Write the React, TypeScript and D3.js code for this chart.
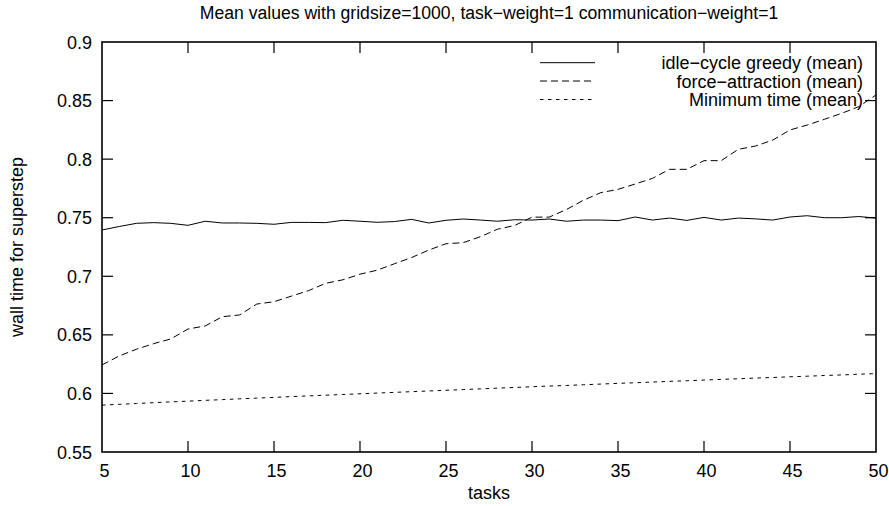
import React, { useEffect, useRef } from "react";
import * as d3 from "d3";

const tasks: number[] = d3.range(5, 51);

const idleCycleGreedy: number[] = [
  0.7395, 0.7425, 0.7452, 0.7458, 0.7452, 0.7435, 0.747, 0.7455, 0.7455, 0.7452,
  0.7444, 0.746, 0.746, 0.7458, 0.7478, 0.747, 0.7461, 0.7467, 0.7486, 0.7455,
  0.7478, 0.7489, 0.748, 0.747, 0.7483, 0.748, 0.7489, 0.747, 0.748, 0.748,
  0.7475, 0.7506, 0.748, 0.7497, 0.7477, 0.7503, 0.748, 0.7497, 0.749, 0.748,
  0.7506, 0.7517, 0.75, 0.75, 0.751, 0.7497,
];

const forceAttraction: number[] = [
  0.6243, 0.632, 0.6377, 0.6425, 0.6465, 0.655, 0.6576, 0.6655, 0.667, 0.6763,
  0.6783, 0.683, 0.6877, 0.694, 0.697, 0.7018, 0.7052, 0.7107, 0.716, 0.7224,
  0.7278, 0.7287, 0.7338, 0.7402, 0.7434, 0.7505, 0.7505, 0.757, 0.765, 0.7714,
  0.7742, 0.7788, 0.7836, 0.7913, 0.7913, 0.7987, 0.7987, 0.8084, 0.8112, 0.8163,
  0.8249, 0.8291, 0.834, 0.8391, 0.8448, 0.8548,
];

const minimumTime: number[] = [
  0.59, 0.5907, 0.5914, 0.5921, 0.5928, 0.5934, 0.5941, 0.5947, 0.5954, 0.596,
  0.5966, 0.5973, 0.5979, 0.5985, 0.5991, 0.5997, 0.6003, 0.6009, 0.6015, 0.6021,
  0.6027, 0.6033, 0.6039, 0.6045, 0.6051, 0.6057, 0.6063, 0.6068, 0.6074, 0.608,
  0.6086, 0.6091, 0.6097, 0.6103, 0.6108, 0.6114, 0.612, 0.6125, 0.6131, 0.6136,
  0.6142, 0.6147, 0.6153, 0.6158, 0.6164, 0.6169,
];

const xTicks: number[] = [5, 10, 15, 20, 25, 30, 35, 40, 45, 50];
const yTicks: number[] = [0.55, 0.6, 0.65, 0.7, 0.75, 0.8, 0.85, 0.9];

const seriesNames: string[] = [
  "idle\u2212cycle greedy (mean)",
  "force\u2212attraction (mean)",
  "Minimum time (mean)",
];
const titleText = "Mean values with gridsize=1000, task\u2212weight=1 communication\u2212weight=1";
const xLabel = "tasks";
const yLabel = "wall time for superstep";

const W = 889;
const H = 506;
const M = { left: 102, right: 876, top: 42, bottom: 452 };
const FONT = "'Liberation Sans', Arial, Helvetica, sans-serif";
const dashes = [null, "7,4", "3.5,4.5"];

export default function App() {
  const ref = useRef<SVGSVGElement>(null);

  useEffect(() => {
    const svg = d3.select(ref.current);
    svg.selectAll("*").remove();

    const x = d3.scaleLinear().domain([5, 50]).range([M.left, M.right]);
    const y = d3.scaleLinear().domain([0.55, 0.9]).range([M.bottom, M.top]);

    svg.append("rect").attr("width", W).attr("height", H).attr("fill", "#fff");

    const g = svg.append("g");
    const tickLen = 11;

    xTicks.forEach((t) => {
      const xp = x(t);
      if (t !== 5 && t !== 50) {
        g.append("line").attr("x1", xp).attr("x2", xp).attr("y1", M.bottom).attr("y2", M.bottom - tickLen).attr("stroke", "#000").attr("stroke-width", 1.2);
        g.append("line").attr("x1", xp).attr("x2", xp).attr("y1", M.top).attr("y2", M.top + tickLen).attr("stroke", "#000").attr("stroke-width", 1.2);
      }
      g.append("text")
        .attr("x", xp + 2.5)
        .attr("y", 476.5)
        .attr("text-anchor", "middle")
        .attr("font-family", FONT)
        .attr("font-size", 18)
        .text(String(t));
    });

    yTicks.forEach((v) => {
      const yp = y(v);
      if (v !== 0.55 && v !== 0.9) {
        g.append("line").attr("x1", M.left).attr("x2", M.left + tickLen).attr("y1", yp).attr("y2", yp).attr("stroke", "#000").attr("stroke-width", 1.2);
        g.append("line").attr("x1", M.right).attr("x2", M.right - tickLen).attr("y1", yp).attr("y2", yp).attr("stroke", "#000").attr("stroke-width", 1.2);
      }
      g.append("text")
        .attr("x", 92)
        .attr("y", yp + 6.5)
        .attr("text-anchor", "end")
        .attr("font-family", FONT)
        .attr("font-size", 18)
        .text(d3.format("")(v));
    });

    const allSeries = [idleCycleGreedy, forceAttraction, minimumTime];
    const line = d3
      .line<[number, number]>()
      .x((d) => x(d[0]))
      .y((d) => y(d[1]));

    allSeries.forEach((vals, i) => {
      const pts: [number, number][] = tasks.map((t, k) => [t, vals[k]]);
      const p = g
        .append("path")
        .attr("d", line(pts) as string)
        .attr("fill", "none")
        .attr("stroke", "#000")
        .attr("stroke-width", 1);
      if (dashes[i]) p.attr("stroke-dasharray", dashes[i] as string);
    });

    const legendRows = [62.7, 81, 99.5];
    seriesNames.forEach((name, i) => {
      const ly = legendRows[i];
      const l = g
        .append("line")
        .attr("x1", 540)
        .attr("x2", 595)
        .attr("y1", ly)
        .attr("y2", ly)
        .attr("stroke", "#000")
        .attr("stroke-width", 1);
      if (dashes[i]) l.attr("stroke-dasharray", dashes[i] as string);
      g.append("text")
        .attr("x", 863)
        .attr("y", ly + 6.5)
        .attr("text-anchor", "end")
        .attr("font-family", FONT)
        .attr("font-size", 18)
        .text(name);
    });

    g.append("rect")
      .attr("x", M.left)
      .attr("y", M.top)
      .attr("width", M.right - M.left)
      .attr("height", M.bottom - M.top)
      .attr("fill", "none")
      .attr("stroke", "#000")
      .attr("stroke-width", 1.6);

    g.append("text")
      .attr("x", (M.left + M.right) / 2)
      .attr("y", 19)
      .attr("text-anchor", "middle")
      .attr("font-family", FONT)
      .attr("font-size", 17.6)
      .text(titleText);

    g.append("text")
      .attr("x", (M.left + M.right) / 2)
      .attr("y", 499)
      .attr("text-anchor", "middle")
      .attr("font-family", FONT)
      .attr("font-size", 18)
      .text(xLabel);

    g.append("text")
      .attr("transform", `translate(23, ${(M.top + M.bottom) / 2}) rotate(-90)`)
      .attr("text-anchor", "middle")
      .attr("font-family", FONT)
      .attr("font-size", 18)
      .text(yLabel);
  }, []);

  return (
    <svg
      ref={ref}
      width={W}
      height={H}
      style={{ position: "absolute", left: 0, top: 0, display: "block" }}
    />
  );
}
